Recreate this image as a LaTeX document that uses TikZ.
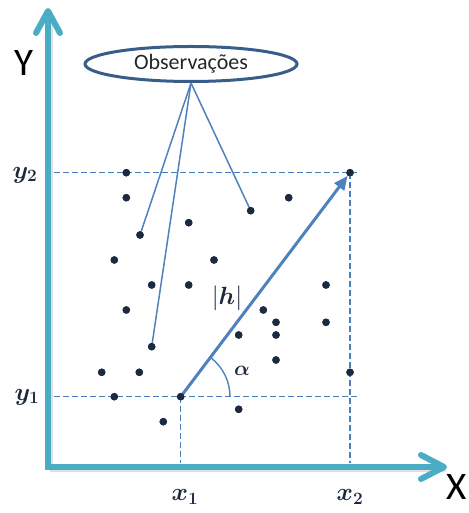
\documentclass[tikz,border=0pt]{standalone}
\usepackage[no-math]{fontspec}
\setmainfont{Carlito}
\usepackage{amsmath}
\usetikzlibrary{shapes.geometric,arrows.meta}
\definecolor{axisc}{RGB}{75,172,198}
\definecolor{vecc}{RGB}{79,129,189}
\definecolor{dashc}{RGB}{74,126,187}
\definecolor{ellc}{RGB}{56,93,138}
\definecolor{dotc}{RGB}{27,42,65}
\definecolor{labc}{RGB}{30,40,62}
\begin{document}
\begin{tikzpicture}[x=1pt,y=1pt,
  axisline/.style={line width=6pt, draw=axisc},
  chev/.style={line width=6pt, draw=axisc, line cap=round, line join=round},
  shadowline/.style={line width=6pt, draw=black, opacity=0.12},
  dot/.style={circle, fill=dotc, inner sep=0pt, minimum size=7.5pt},
  guide/.style={draw=dashc, line width=1.3pt, dash pattern=on 6pt off 3pt},
  pointer/.style={draw=vecc, line width=1.5pt},
  vec/.style={draw=vecc, line width=3pt, -{Triangle[length=14pt,width=12pt]}},
  arcline/.style={draw=vecc, line width=1.4pt},
  mlabel/.style={text=labc, font=\fontsize{25}{29}\selectfont\boldmath, inner sep=0pt},
  slabel/.style={text=labc, font=\fontsize{24}{28}\selectfont, inner sep=0pt},
  alabel/.style={text=labc, font=\fontsize{22}{26}\selectfont\boldmath, inner sep=0pt},
  axlabel/.style={font=\fontsize{39}{44}\selectfont, inner sep=0pt},
  bubble/.style={ellipse, draw=ellc, line width=3pt, minimum width=212pt, minimum height=35pt, inner sep=0pt, font=\fontsize{22}{26}\selectfont, text=black!85}
]
\useasboundingbox (0,0) rectangle (468,513);

% axis coordinates
\coordinate (O) at (48,46);
\coordinate (Ytop) at (48,502);
\coordinate (Xend) at (444,46);
\coordinate (ya) at (36,480);
\coordinate (yb) at (60,480);
\coordinate (xa) at (421,58);
\coordinate (xb) at (421,34);

% dots
\node[dot] (t)   at (350,340.3) {};
\node[dot] (d1)  at (126.3,340.3) {};
\node[dot] (d2)  at (126.3,315.3) {};
\node[dot] (d3)  at (288.7,315.3) {};
\node[dot] (d4)  at (250.7,302.3) {};
\node[dot] (d5)  at (188.7,290.3) {};
\node[dot] (d6)  at (140,278) {};
\node[dot] (d7)  at (114.3,253) {};
\node[dot] (d8)  at (214,253) {};
\node[dot] (d9)  at (151.7,228) {};
\node[dot] (d10) at (188.7,228) {};
\node[dot] (d11) at (326,228) {};
\node[dot] (d12) at (126.3,203) {};
\node[dot] (d13) at (263.3,203) {};
\node[dot] (d14) at (276,190.7) {};
\node[dot] (d15) at (326,190.7) {};
\node[dot] (d16) at (238.7,178) {};
\node[dot] (d17) at (276,178) {};
\node[dot] (d18) at (151.7,166.3) {};
\node[dot] (d19) at (276,153) {};
\node[dot] (d20) at (101.7,140.7) {};
\node[dot] (d21) at (139.3,140.7) {};
\node[dot] (d22) at (350,140.7) {};
\node[dot] (d23) at (114.3,116.3) {};
\node[dot] (o)   at (180.7,116.3) {};
\node[dot] (d24) at (238.7,103.7) {};
\node[dot] (d25) at (163.3,91.3) {};

% guide coordinates
\coordinate (y2a) at (54,340.3);
\coordinate (y2b) at (358,340.3);
\coordinate (y1a) at (54,116.3);
\coordinate (y1b) at (358,116.3);
\coordinate (x1b) at (180.7,50);
\coordinate (x2b) at (350,50);

\draw[guide] (y2a) -- (y2b);
\draw[guide] (y1a) -- (y1b);
\draw[guide] (o.center) -- (x1b);
\draw[guide] (t.center) -- (x2b);

% bubble and pointers
\node[bubble] (obs) at (191,449) {Observações};
\draw[pointer] (obs.south) -- (d6.center);
\draw[pointer] (obs.south) -- (d18.center);
\draw[pointer] (obs.south) -- (d4.center);

% vector and angle
\draw[vec] (o.center) -- (t);
\draw[arcline] ([shift={(0:49.3pt)}]o.center) arc[start angle=0, end angle=52.9, radius=49.3pt];

% redraw dots on top
\foreach \n in {t,d1,d2,d3,d4,d5,d6,d7,d8,d9,d10,d11,d12,d13,d14,d15,d16,d17,d18,d19,d20,d21,d22,d23,o,d24,d25}
  \fill[dotc] (\n.center) circle (3.75pt);

% axes with light shadow
\draw[shadowline] ([shift={(2,-2)}]O) -- ([shift={(2,-2)}]Xend);
\draw[shadowline] ([shift={(2,-2)}]O) -- ([shift={(2,-2)}]Ytop);
\draw[axisline] (O) -- (Ytop);
\draw[axisline] ([xshift=-3pt]O) -- (Xend);
\draw[chev] (ya) -- (Ytop) -- (yb);
\draw[chev] (xa) -- (Xend) -- (xb);

% labels
\node[axlabel] (ylab) at (24,450) {Y};
\node[axlabel] (xlab) at (457,26) {X};
\node[mlabel] (y2l) at (25,338) {$y_2$};
\node[mlabel] (y1l) at (27,116) {$y_1$};
\node[mlabel] (x1l) at (185,16) {$x_1$};
\node[mlabel] (x2l) at (350,16) {$x_2$};
\node[slabel] (hl) at (227,215) {$|\boldsymbol{h}|$};
\node[alabel] (al) at (242,142) {$\alpha$};
\end{tikzpicture}
\end{document}
